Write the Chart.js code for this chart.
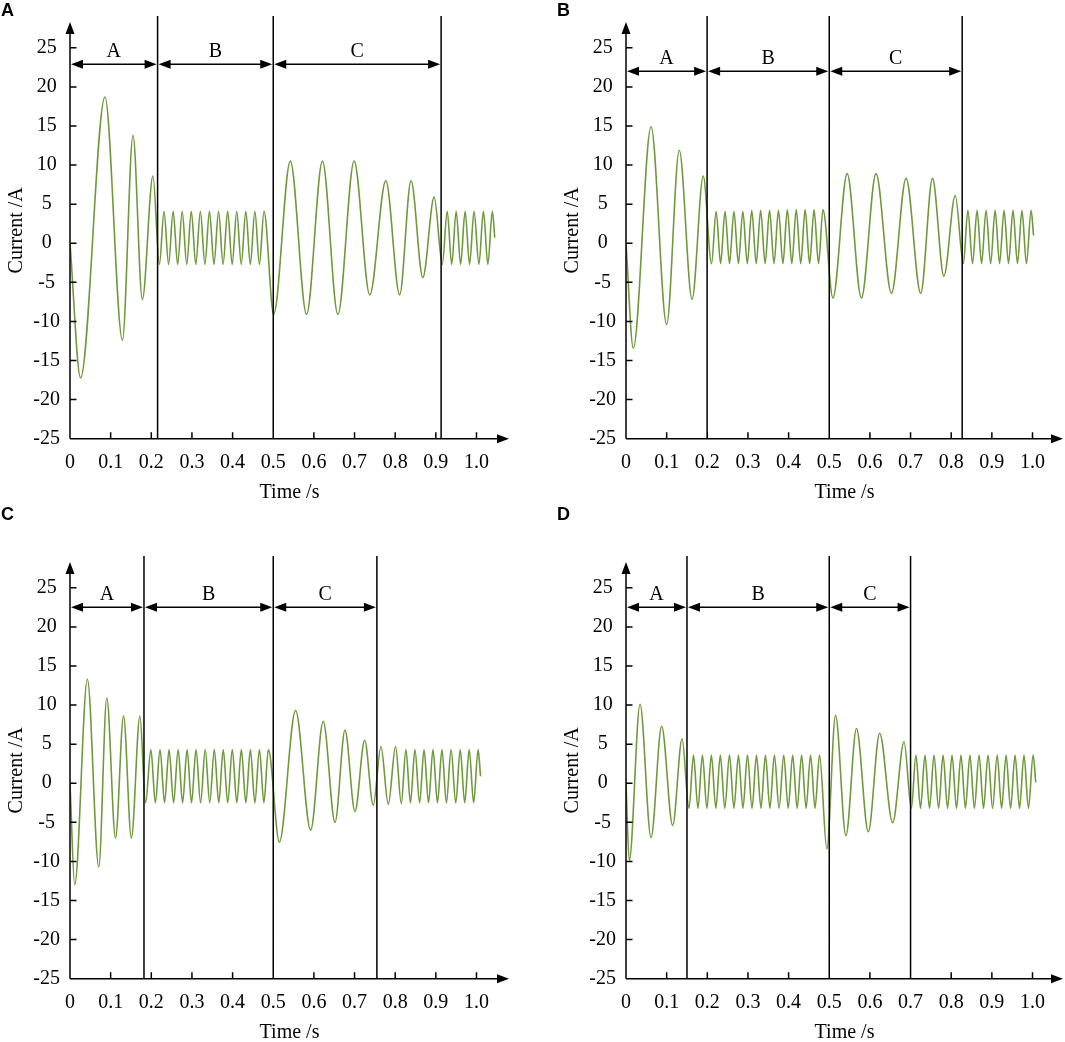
<!DOCTYPE html>
<html>
<head>
<meta charset="utf-8">
<script src="https://cdn.jsdelivr.net/npm/chart.js@4.4.1/dist/chart.umd.min.js"></script>
<style>
  html, body { margin: 0; padding: 0; background: #fff; overflow: hidden; }
  body { width: 1065px; height: 1042px; position: relative; }
  .panel { position: absolute; height: 520px; }
  .tag { position: absolute; font: bold 18px 'Liberation Sans', Arial, sans-serif; line-height: 18px; color: #000; }
</style>
</head>
<body>
<div class="panel" style="left:0;top:0;width:532px"><canvas id="chart-a"></canvas></div>
<div class="panel" style="left:556px;top:0;width:509px"><canvas id="chart-b"></canvas></div>
<div class="panel" style="left:0;top:540px;width:532px"><canvas id="chart-c"></canvas></div>
<div class="panel" style="left:556px;top:540px;width:509px"><canvas id="chart-d"></canvas></div>
<div class="tag" style="left:1px;top:1px">A</div>
<div class="tag" style="left:557px;top:1px">B</div>
<div class="tag" style="left:1px;top:505px">C</div>
<div class="tag" style="left:557px;top:505px">D</div>
<script>
// --- axis ticks and stage names
const xTicks = [0, 0.1, 0.2, 0.3, 0.4, 0.5, 0.6, 0.7, 0.8, 0.9, 1.0];
const yTicks = [-25, -20, -15, -10, -5, 0, 5, 10, 15, 20, 25];
const stageNames = ['A', 'B', 'C'];

// --- panel A: extrema (time s, current A)
const aTime = [0, 0.026, 0.086, 0.129, 0.155, 0.178, 0.204, 0.220,
  0.2313, 0.2425, 0.2537, 0.2648, 0.2760, 0.2872, 0.2984, 0.3095, 0.3207, 0.3319, 0.3431, 0.3542,
  0.3654, 0.3766, 0.3878, 0.3989, 0.4101, 0.4213, 0.4325, 0.4436, 0.4548, 0.4660, 0.4772,
  0.501, 0.542, 0.582, 0.621, 0.659, 0.699, 0.7375, 0.777, 0.811, 0.839, 0.868, 0.896, 0.916,
  0.928, 0.939, 0.950, 0.961, 0.972, 0.983, 0.994, 1.006, 1.017, 1.028, 1.039, 1.045];
const aCurrent = [0, -17.2, 18.7, -12.4, 13.8, -7.2, 8.6, -2.7,
  4.1, -2.7, 4.1, -2.7, 4.1, -2.7, 4.1, -2.7, 4.1, -2.7, 4.1, -2.7,
  4.1, -2.7, 4.1, -2.7, 4.1, -2.7, 4.1, -2.7, 4.1, -2.7, 4.1,
  -9.1, 10.5, -9.1, 10.5, -9.1, 10.5, -6.6, 8.0, -6.6, 8.0, -4.4, 5.9, -2.7,
  4.1, -2.7, 4.1, -2.7, 4.1, -2.7, 4.1, -2.7, 4.1, -2.7, 4.1, 0.7];
const aBounds = [0.2155, 0.5, 0.913];

// --- panel B
const bTime = [0, 0.018, 0.0616, 0.100, 0.131, 0.1626, 0.190, 0.2105,
  0.2217, 0.2327, 0.2436, 0.2546, 0.2655, 0.2765, 0.2874, 0.2984, 0.3093, 0.3203, 0.3312, 0.3422,
  0.3531, 0.3641, 0.3750, 0.3860, 0.3969, 0.4079, 0.4188, 0.4298, 0.4407, 0.4517, 0.4626, 0.4736, 0.4845,
  0.509, 0.544, 0.579, 0.615, 0.653, 0.689, 0.725, 0.754, 0.782, 0.810, 0.830,
  0.841, 0.8525, 0.8636, 0.8747, 0.8857, 0.897, 0.908, 0.919, 0.930, 0.941, 0.952, 0.963, 0.974, 0.985, 0.9966, 1.0025];
const bCurrent = [0, -13.4, 14.9, -10.4, 11.9, -7.15, 8.6, -2.6,
  4.1, -2.6, 4.1, -2.6, 4.1, -2.6, 4.1, -2.6, 4.2, -2.6, 4.2, -2.6,
  4.2, -2.6, 4.2, -2.6, 4.3, -2.6, 4.3, -2.6, 4.3, -2.6, 4.3, -2.6, 4.3,
  -7.0, 8.9, -7.0, 8.9, -6.4, 8.3, -6.4, 8.3, -4.2, 6.1, -2.6,
  4.2, -2.6, 4.2, -2.6, 4.2, -2.6, 4.2, -2.6, 4.2, -2.6, 4.2, -2.6, 4.2, -2.6, 4.2, 1.0];
const bBounds = [0.1995, 0.5, 0.827];

// --- panel C
const cTime = [0, 0.0116, 0.0428, 0.0708, 0.0905, 0.112, 0.1317, 0.151, 0.172, 0.186,
  0.199, 0.210, 0.2215, 0.2326, 0.2437, 0.2548, 0.266, 0.277, 0.288, 0.299, 0.310, 0.3213, 0.3326, 0.3438,
  0.355, 0.366, 0.377, 0.388, 0.3993, 0.4104, 0.4215, 0.4326, 0.4437, 0.4548, 0.466, 0.477, 0.488,
  0.515, 0.555, 0.592, 0.623, 0.652, 0.6765, 0.701, 0.725, 0.746, 0.765, 0.783, 0.801, 0.815,
  0.8264, 0.8375, 0.8486, 0.860, 0.871, 0.882, 0.893, 0.904, 0.915, 0.926, 0.9375, 0.949, 0.960, 0.971, 0.982, 0.993, 1.004, 1.010];
const cCurrent = [0, -13.0, 13.3, -10.7, 10.9, -7.0, 8.6, -7.0, 8.6, -2.5,
  4.3, -2.5, 4.3, -2.5, 4.3, -2.5, 4.3, -2.5, 4.3, -2.5, 4.3, -2.5, 4.3, -2.5,
  4.3, -2.5, 4.3, -2.5, 4.3, -2.5, 4.3, -2.5, 4.3, -2.5, 4.3, -2.5, 4.3,
  -7.5, 9.3, -6.0, 7.9, -5.0, 6.8, -3.6, 5.5, -2.8, 4.7, -2.7, 4.7, -2.6,
  4.3, -2.5, 4.3, -2.5, 4.3, -2.5, 4.3, -2.5, 4.3, -2.5, 4.3, -2.5, 4.3, -2.5, 4.3, -2.5, 4.3, 0.9];
const cBounds = [0.182, 0.5, 0.755];

// --- panel D
const dTime = [0, 0.008, 0.0345, 0.0616, 0.0877, 0.1148, 0.138, 0.155,
  0.166, 0.177, 0.188, 0.199, 0.210, 0.221, 0.232, 0.243, 0.2545, 0.2655, 0.2766, 0.2877, 0.2988, 0.310,
  0.321, 0.332, 0.343, 0.354, 0.365, 0.3765, 0.388, 0.399, 0.410, 0.421, 0.432, 0.443, 0.454, 0.465, 0.476,
  0.494, 0.5155, 0.541, 0.567, 0.596, 0.624, 0.656, 0.684, 0.702,
  0.7133, 0.7244, 0.7355, 0.7466, 0.7577, 0.769, 0.780, 0.791, 0.802, 0.813, 0.824, 0.835, 0.846, 0.857,
  0.8685, 0.8795, 0.8906, 0.9018, 0.913, 0.924, 0.935, 0.946, 0.957, 0.968, 0.979, 0.990, 1.0015, 1.008];
const dCurrent = [0, -9.9, 10.1, -6.95, 7.3, -5.4, 5.7, -3.2,
  3.6, -3.2, 3.6, -3.2, 3.6, -3.2, 3.6, -3.2, 3.6, -3.2, 3.6, -3.2, 3.6, -3.2,
  3.6, -3.2, 3.6, -3.2, 3.6, -3.2, 3.6, -3.2, 3.6, -3.2, 3.6, -3.2, 3.6, -3.2, 3.6,
  -8.4, 8.7, -6.7, 7.0, -6.2, 6.4, -5.05, 5.3, -3.2,
  3.6, -3.2, 3.6, -3.2, 3.6, -3.2, 3.6, -3.2, 3.6, -3.2, 3.6, -3.2, 3.6, -3.2,
  3.6, -3.2, 3.6, -3.2, 3.6, -3.2, 3.6, -3.2, 3.6, -3.2, 3.6, -3.2, 3.6, 0.1];
const dBounds = [0.150, 0.5, 0.700];

// --- styling
const LINE_COLOR = '#6f9a3c';
const SERIF = "'Liberation Serif', 'Times New Roman', serif";
Chart.defaults.font.family = SERIF;
Chart.defaults.font.size = 20;
Chart.defaults.color = '#000';

function arrowHead(ctx, tx, ty, dir) {
  const L = 12, W = 4.5;
  ctx.beginPath();
  ctx.moveTo(tx, ty);
  if (dir === 'up') { ctx.lineTo(tx - W, ty + L); ctx.lineTo(tx + W, ty + L); }
  else if (dir === 'right') { ctx.lineTo(tx - L, ty - W); ctx.lineTo(tx - L, ty + W); }
  else { ctx.lineTo(tx + L, ty - W); ctx.lineTo(tx + L, ty + W); }
  ctx.closePath();
  ctx.fill();
}

// axes with arrows, inward ticks, stage boundaries and stage arrows
const decor = {
  id: 'decor',
  afterDatasetsDraw(chart, args, opts) {
    const { ctx, chartArea: a, scales: { x, y } } = chart;
    ctx.save();
    ctx.strokeStyle = '#000';
    ctx.fillStyle = '#000';
    ctx.lineWidth = 1.5;

    ctx.beginPath();
    ctx.moveTo(a.left, a.bottom); ctx.lineTo(a.left, a.top + 8);
    ctx.moveTo(a.left, a.bottom); ctx.lineTo(a.right - 8, a.bottom);
    xTicks.slice(1).forEach(v => {
      const px = x.getPixelForValue(v);
      ctx.moveTo(px, a.bottom); ctx.lineTo(px, a.bottom - 6.5);
    });
    yTicks.slice(1).forEach(v => {
      const py = y.getPixelForValue(v);
      ctx.moveTo(a.left, py); ctx.lineTo(a.left + 6.5, py);
    });
    opts.bounds.forEach(t => {
      const px = x.getPixelForValue(t);
      ctx.moveTo(px, a.top - 6); ctx.lineTo(px, a.bottom);
    });
    ctx.stroke();
    arrowHead(ctx, a.left, a.top, 'up');
    arrowHead(ctx, a.right, a.bottom, 'right');

    const edges = [0].concat(opts.bounds);
    const ay = y.getPixelForValue(opts.level);
    ctx.font = '20px ' + SERIF;
    ctx.textAlign = 'center';
    ctx.textBaseline = 'alphabetic';
    for (let i = 0; i < stageNames.length; i++) {
      const x1 = x.getPixelForValue(edges[i]) + 1;
      const x2 = x.getPixelForValue(edges[i + 1]) - 1;
      ctx.beginPath();
      ctx.moveTo(x1 + 8, ay); ctx.lineTo(x2 - 8, ay);
      ctx.stroke();
      arrowHead(ctx, x1, ay, 'left');
      arrowHead(ctx, x2, ay, 'right');
      ctx.fillText(stageNames[i], (x1 + x2) / 2, ay - 7);
    }
    ctx.restore();
  }
};

function makePanel(id, times, currents, bounds, level, xMax, padRight) {
  return new Chart(document.getElementById(id), {
    type: 'line',
    data: {
      datasets: [{
        data: times.map((t, i) => ({ x: t, y: currents[i] })),
        borderColor: LINE_COLOR,
        borderWidth: 1.6,
        pointRadius: 0,
        fill: false,
        cubicInterpolationMode: 'monotone'
      }]
    },
    options: {
      animation: false,
      responsive: true,
      maintainAspectRatio: false,
      layout: { padding: { top: 20, right: padRight, left: 0, bottom: 0 } },
      plugins: { legend: { display: false }, tooltip: { enabled: false }, decor: { bounds, level } },
      scales: {
        x: {
          type: 'linear', min: 0, max: xMax,
          grid: { display: false, drawTicks: false },
          border: { display: false },
          afterBuildTicks: s => { s.ticks = xTicks.map(v => ({ value: v })); },
          afterFit: s => { s.height = 81.3; },
          ticks: { padding: 12, autoSkip: false, maxRotation: 0, callback: v => v === 0 ? '0' : v.toFixed(1) },
          title: { display: true, text: 'Time /s', padding: { top: 0, bottom: 15 } }
        },
        y: {
          min: -25, max: 28.3,
          grid: { display: false, drawTicks: false },
          border: { display: false },
          afterBuildTicks: s => { s.ticks = yTicks.map(v => ({ value: v })); },
          afterFit: s => { s.width = 70; },
          ticks: { padding: 10, crossAlign: 'center', autoSkip: false },
          title: { display: true, text: 'Current /A', padding: { top: 5, bottom: 0 } }
        }
      }
    },
    plugins: [decor]
  });
}

makePanel('chart-a', aTime, aCurrent, aBounds, 22.9, 1.08, 23);
makePanel('chart-b', bTime, bCurrent, bBounds, 22.0, 1.075, 2);
makePanel('chart-c', cTime, cCurrent, cBounds, 22.5, 1.08, 23);
makePanel('chart-d', dTime, dCurrent, dBounds, 22.5, 1.075, 2);
</script>
</body>
</html>
